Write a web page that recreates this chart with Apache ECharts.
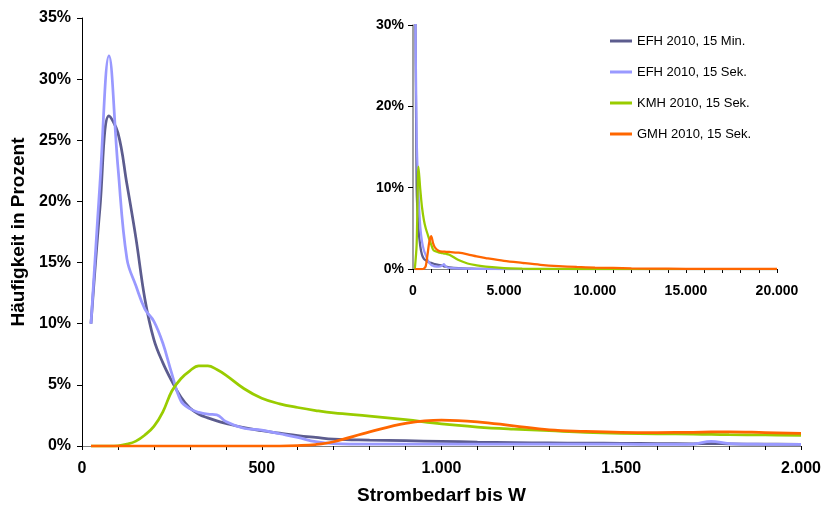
<!DOCTYPE html>
<html>
<head>
<meta charset="utf-8">
<script src="https://cdn.jsdelivr.net/npm/echarts@6.0.0/dist/echarts.min.js"></script>
<style>
html,body{margin:0;padding:0;background:#fff;}
#chart{width:822px;height:507px;}
</style>
</head>
<body>
<div id="chart"></div>
<script>
// ---- Data (main chart: Strombedarf bis 2.000 W) ----
var seriesNames = ['EFH 2010, 15 Min.', 'EFH 2010, 15 Sek.', 'KMH 2010, 15 Sek.', 'GMH 2010, 15 Sek.'];
var seriesColors = ['#5c5c8e', '#9999ff', '#99cc00', '#ff6600'];

var mainX = [25, 50, 75, 100, 125, 150, 175, 200, 225, 250, 275, 300, 325, 350, 375, 400, 450, 500, 550, 600, 650, 700, 800, 900, 1000, 1100, 1200, 1300, 1400, 1500, 1600, 1700, 1750, 1800, 1900, 2000];
var mainEfh15Min = [10, 19.5, 27.0, 25.6, 21.4, 17.0, 12.0, 8.7, 6.8, 5.3, 4.0, 3.1, 2.6, 2.3, 2.05, 1.85, 1.5, 1.25, 1.05, 0.85, 0.7, 0.56, 0.48, 0.43, 0.38, 0.32, 0.28, 0.25, 0.23, 0.22, 0.2, 0.18, 0.2, 0.18, 0.15, 0.14];
var mainEfh15Sek = [10, 21.5, 31.9, 22.8, 15.3, 13.1, 11.2, 10.2, 8.4, 5.9, 3.7, 3.05, 2.75, 2.6, 2.55, 2.0, 1.45, 1.3, 1.0, 0.7, 0.35, 0.2, 0.15, 0.15, 0.16, 0.15, 0.15, 0.16, 0.15, 0.15, 0.13, 0.16, 0.38, 0.2, 0.14, 0.13];
var mainKmh = [0, 0, 0, 0.02, 0.15, 0.4, 0.9, 1.6, 2.8, 4.5, 5.5, 6.15, 6.55, 6.55, 6.25, 5.8, 4.7, 3.9, 3.45, 3.15, 2.9, 2.7, 2.45, 2.15, 1.8, 1.55, 1.38, 1.25, 1.12, 1.04, 1.0, 0.97, 0.95, 0.93, 0.9, 0.87];
var mainGmh = [0, 0, 0, 0, 0, 0, 0, 0, 0, 0, 0, 0, 0, 0, 0, 0, 0, 0, 0, 0.03, 0.12, 0.35, 1.15, 1.85, 2.12, 1.98, 1.65, 1.32, 1.2, 1.12, 1.1, 1.12, 1.15, 1.16, 1.1, 1.04];

// ---- Data (inset: Strombedarf bis 20.000 W) ----
var insetX = [100, 200, 300, 400, 500, 600, 700, 800, 900, 1000, 1100, 1200, 1400, 1600, 1700, 1800, 2000, 2500, 3000, 3500, 4000, 5000, 6000, 7000, 8000, 9000, 10000, 12000, 14000, 16000, 18000, 20000];
var insetEfh15Min = [45, 10, 5, 2.8, 1.7, 1.25, 1.05, 0.92, 0.82, 0.75, 0.68, 0.6, 0.5, 0.4, 0.32, 0.28, 0.2, 0.1, 0.05, 0.02, 0.01, 0, 0, 0, 0, 0, 0, 0, 0, 0, 0, 0];
var insetEfh15Sek = [40, 16.5, 9.3, 5.2, 3.3, 2.3, 1.7, 1.1, 0.75, 0.5, 0.4, 0.32, 0.3, 0.4, 0.6, 0.3, 0.15, 0.07, 0.04, 0.02, 0, 0, 0, 0, 0, 0, 0, 0, 0, 0, 0, 0];
var insetKmh = [0, 3, 12.6, 9.8, 7.5, 6.0, 5.0, 4.3, 3.6, 3.0, 2.4, 2.2, 2.05, 1.95, 1.9, 1.88, 1.75, 1.1, 0.68, 0.45, 0.28, 0.1, 0.04, 0.02, 0.01, 0, 0, 0, 0, 0, 0, 0];
var insetGmh = [0, 0, 0, 0, 0, 0.05, 0.35, 1.8, 3.4, 4.05, 3.2, 2.65, 2.25, 2.15, 2.15, 2.12, 2.1, 2.0, 1.8, 1.55, 1.35, 1.0, 0.75, 0.52, 0.36, 0.25, 0.18, 0.08, 0.04, 0.02, 0.01, 0.01];

var mainValues = [mainEfh15Min, mainEfh15Sek, mainKmh, mainGmh];
var insetValues = [insetEfh15Min, insetEfh15Sek, insetKmh, insetGmh];

function pairs(xs, ys) { return xs.map(function (x, i) { return [x, ys[i]]; }); }
function thousands(v) { return String(v).replace(/\B(?=(\d{3})+(?!\d))/g, '.'); }

var FONT = 'Liberation Sans, Arial, Helvetica, sans-serif';

var series = [];
mainValues.forEach(function (vals, i) {
  series.push({
    name: seriesNames[i], type: 'line', xAxisIndex: 0, yAxisIndex: 0,
    data: pairs(mainX, vals), smooth: 0.4, symbol: 'none', showSymbol: false,
    lineStyle: { color: seriesColors[i], width: 2.75 }, itemStyle: { color: seriesColors[i] },
    z: 2 + i
  });
});
insetValues.forEach(function (vals, i) {
  series.push({
    name: seriesNames[i], type: 'line', xAxisIndex: 1, yAxisIndex: 1,
    data: pairs(insetX, vals), smooth: 0.3, symbol: 'none', showSymbol: false, clip: true,
    lineStyle: { color: seriesColors[i], width: 2.25 }, itemStyle: { color: seriesColors[i] },
    z: 2 + i
  });
});

var chart = echarts.init(document.getElementById('chart'), null, { renderer: 'canvas' });
chart.setOption({
  animation: false,
  backgroundColor: '#ffffff',
  textStyle: { fontFamily: FONT },
  legend: {
    data: seriesNames,
    orient: 'vertical',
    left: 605, top: 29,
    icon: 'rect', itemWidth: 22, itemHeight: 3, itemGap: 17,
    textStyle: { fontFamily: FONT, fontSize: 13, color: '#000', lineHeight: 14 }
  },
  grid: [
    { left: 82, right: 21, top: 18, bottom: 61, containLabel: false, outerBoundsMode: 'none' },
    { left: 413, right: 45, top: 25, bottom: 238, containLabel: false, outerBoundsMode: 'none' }
  ],
  xAxis: [
    {
      type: 'value', gridIndex: 0, min: 0, max: 2000, interval: 100,
      name: 'Strombedarf bis W', nameLocation: 'middle', nameGap: 40,
      nameTextStyle: { fontFamily: FONT, fontSize: 19, fontWeight: 'bold', color: '#000' },
      axisLine: { show: true, onZero: false, lineStyle: { color: '#808080', width: 1 } },
      axisTick: { show: true, inside: false, length: 4, lineStyle: { color: '#000' } },
      splitLine: { show: false },
      axisLabel: {
        show: true, margin: 15, fontFamily: FONT, fontSize: 16, fontWeight: 'bold', color: '#000',
        formatter: function (v) { return v % 500 === 0 ? thousands(v) : ''; }
      }
    },
    {
      type: 'value', gridIndex: 1, min: 0, max: 20000, interval: 1000,
      axisLine: { show: true, onZero: false, lineStyle: { color: '#808080', width: 1 } },
      axisTick: { show: true, inside: false, length: 4, lineStyle: { color: '#000' } },
      splitLine: { show: false },
      axisLabel: {
        show: true, margin: 15, fontFamily: FONT, fontSize: 14, fontWeight: 'bold', color: '#000',
        formatter: function (v) { return v % 5000 === 0 ? thousands(v) : ''; }
      }
    }
  ],
  yAxis: [
    {
      type: 'value', gridIndex: 0, min: 0, max: 35, interval: 5,
      name: 'Häufigkeit in Prozent', nameLocation: 'middle', nameGap: 46, nameRotate: 90,
      nameTextStyle: { fontFamily: FONT, fontSize: 19, fontWeight: 'bold', color: '#000' },
      axisLine: { show: true, lineStyle: { color: '#000', width: 1 } },
      axisTick: { show: true, inside: false, length: 5, lineStyle: { color: '#000' } },
      splitLine: { show: false },
      axisLabel: { show: true, margin: 11, fontFamily: FONT, fontSize: 16, fontWeight: 'bold', color: '#000', formatter: '{value}%' }
    },
    {
      type: 'value', gridIndex: 1, min: 0, max: 30, interval: 10,
      axisLine: { show: true, lineStyle: { color: '#808080', width: 1.5 } },
      axisTick: { show: true, inside: false, length: 5, lineStyle: { color: '#000' } },
      splitLine: { show: false },
      axisLabel: { show: true, margin: 9, fontFamily: FONT, fontSize: 14, fontWeight: 'bold', color: '#000', formatter: '{value}%' }
    }
  ],
  series: series
});
</script>
</body>
</html>
